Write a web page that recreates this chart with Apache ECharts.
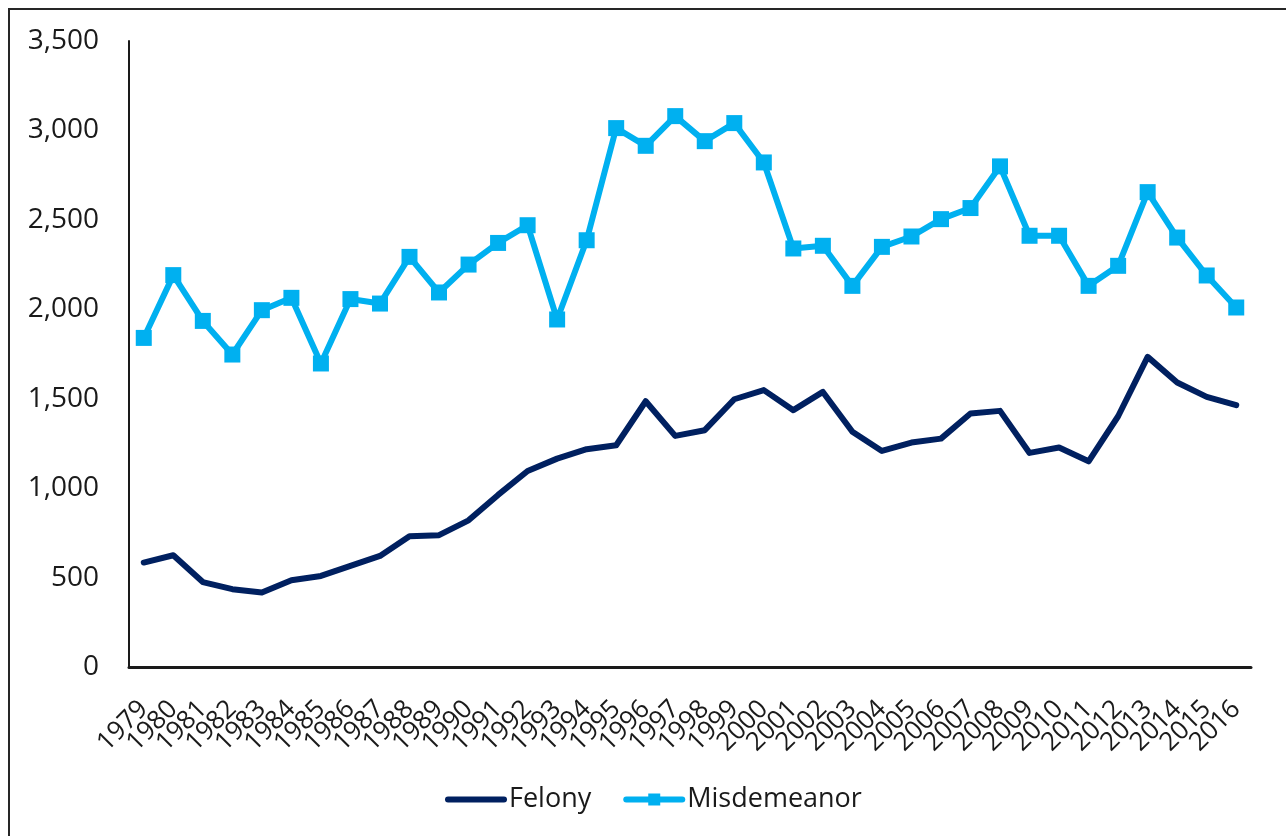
<!DOCTYPE html>
<html>
<head>
<meta charset="utf-8">
<style>
  html, body { margin: 0; padding: 0; background: #ffffff; }
  #chart { width: 1286px; height: 836px; }
</style>
<script src="https://cdn.jsdelivr.net/npm/echarts@6/dist/echarts.min.js"></script>
</head>
<body>
<div id="chart"></div>
<script>
const years = ['1979','1980','1981','1982','1983','1984','1985','1986','1987','1988',
  '1989','1990','1991','1992','1993','1994','1995','1996','1997','1998',
  '1999','2000','2001','2002','2003','2004','2005','2006','2007','2008',
  '2009','2010','2011','2012','2013','2014','2015','2016'];

const felony = [584, 625, 475, 435, 416, 485, 509, 565, 621, 731,
  737, 820, 962, 1096, 1165, 1218, 1240, 1486, 1292, 1324,
  1497, 1548, 1436, 1538, 1315, 1208, 1255, 1277, 1417, 1432,
  1197, 1227, 1150, 1402, 1734, 1591, 1510, 1464];

const misdemeanor = [1840, 2191, 1935, 1747, 1995, 2064, 1697, 2057, 2032, 2293,
  2094, 2250, 2371, 2470, 1943, 2386, 3013, 2914, 3080, 2940,
  3041, 2821, 2340, 2355, 2131, 2349, 2407, 2504, 2566, 2799,
  2411, 2411, 2131, 2243, 2655, 2401, 2189, 2010];

const seriesNames = ['Felony', 'Misdemeanor'];
const yMin = 0, yMax = 3500, yStep = 500;

const chart = echarts.init(document.getElementById('chart'), null, { renderer: 'canvas' });
const FONT = '"Open Sans", "DejaVu Sans", sans-serif';

chart.setOption({
  animation: false,
  backgroundColor: '#ffffff',
  graphic: [{
    type: 'rect',
    silent: true,
    shape: { x: 9, y: 9, width: 1300, height: 850 },
    style: { fill: 'none', stroke: '#262626', lineWidth: 2 }
  }],
  grid: { left: 129, top: 41, right: 35, bottom: 169, containLabel: false },
  legend: {
    data: [
      { name: seriesNames[0], itemStyle: { opacity: 0 } },
      { name: seriesNames[1] }
    ],
    left: 440,
    top: 781,
    itemWidth: 56,
    itemHeight: 15,
    itemGap: 32,
    lineStyle: { width: 6 },
    textStyle: { fontFamily: FONT, fontSize: 27, color: '#1a1a1a' }
  },
  xAxis: {
    type: 'category',
    data: years,
    boundaryGap: true,
    axisLine: { show: true, lineStyle: { color: '#1a1a1a', width: 3 } },
    axisTick: { show: false },
    splitLine: { show: false },
    axisLabel: {
      interval: 0,
      rotate: 45,
      margin: 38,
      fontFamily: FONT,
      fontSize: 26,
      color: '#1a1a1a'
    }
  },
  yAxis: {
    type: 'value',
    min: yMin,
    max: yMax,
    interval: yStep,
    axisLine: { show: true, lineStyle: { color: '#1a1a1a', width: 2 } },
    axisTick: { show: false },
    splitLine: { show: false },
    axisLabel: {
      margin: 30,
      fontFamily: FONT,
      fontSize: 28,
      color: '#1a1a1a',
      formatter: v => v.toLocaleString('en-US')
    }
  },
  series: [
    {
      name: seriesNames[0],
      type: 'line',
      data: felony,
      symbol: 'none',
      color: '#002060',
      lineStyle: { color: '#002060', width: 6, cap: 'round', join: 'round' }
    },
    {
      name: seriesNames[1],
      type: 'line',
      data: misdemeanor,
      symbol: 'rect',
      symbolSize: 16,
      showAllSymbol: true,
      color: '#00B0F0',
      itemStyle: { color: '#00B0F0' },
      lineStyle: { color: '#00B0F0', width: 6, cap: 'round', join: 'round' }
    }
  ]
});
</script>
</body>
</html>
